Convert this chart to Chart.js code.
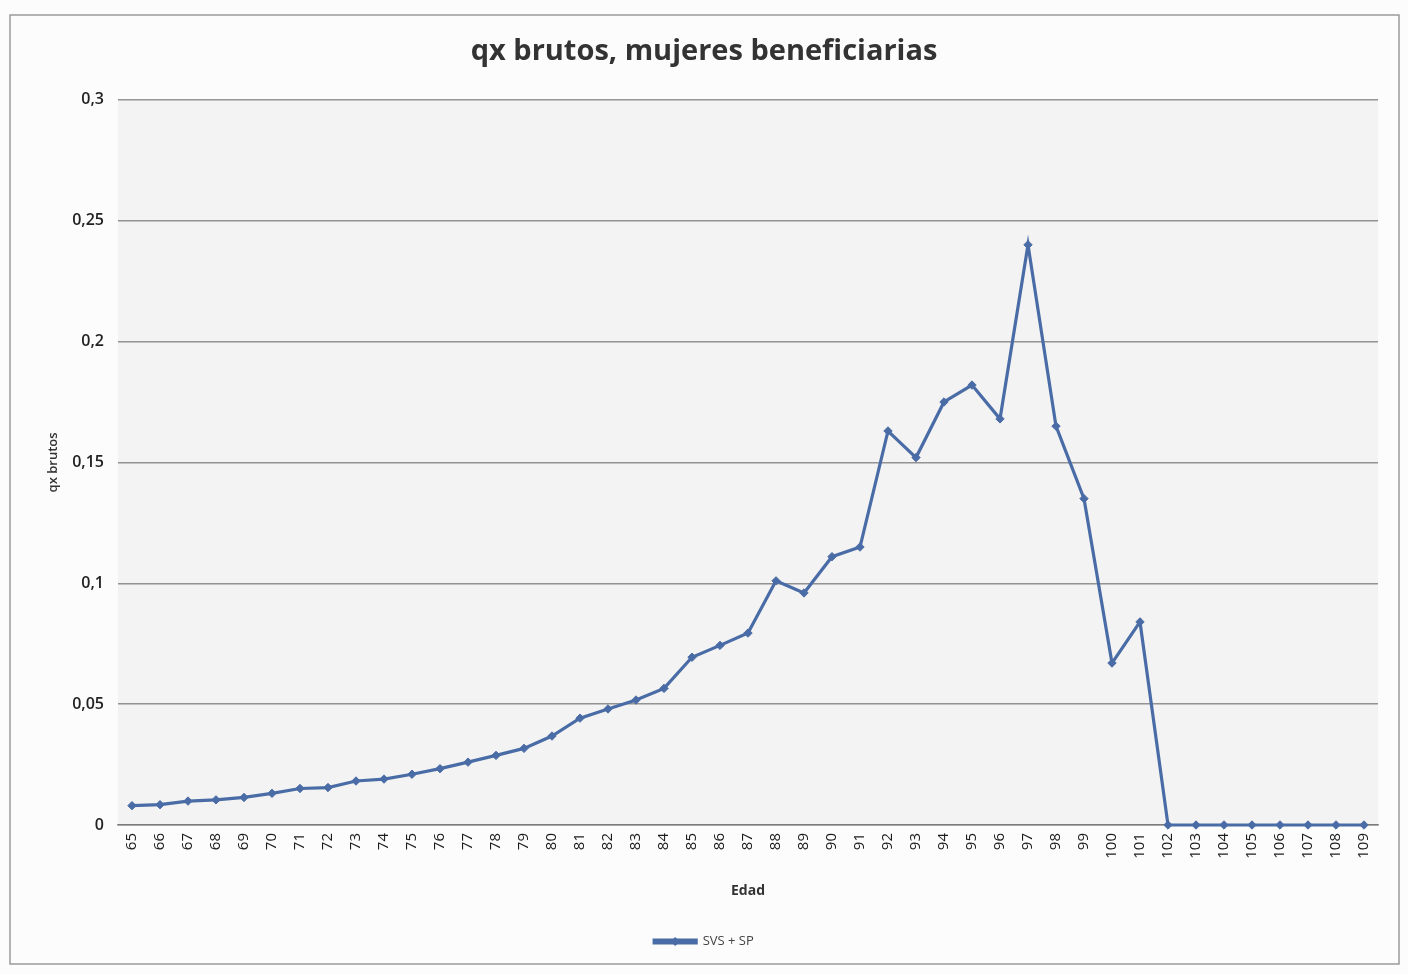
<!DOCTYPE html>
<html>
<head>
<meta charset="utf-8">
<title>qx brutos, mujeres beneficiarias</title>
<script src="https://cdn.jsdelivr.net/npm/chart.js@4.4.1/dist/chart.umd.min.js"></script>
<style>
    html, body { margin: 0; padding: 0; background: #fcfcfc; }
    canvas { display: block; }
</style>
</head>
<body>
<canvas id="chart-qx" width="1408" height="974"></canvas>
<script>
const edades = ['65', '66', '67', '68', '69', '70', '71', '72', '73', '74', '75', '76', '77', '78', '79',
    '80', '81', '82', '83', '84', '85', '86', '87', '88', '89', '90', '91', '92', '93', '94',
    '95', '96', '97', '98', '99', '100', '101', '102', '103', '104', '105', '106', '107', '108', '109'];

const qxSvsSp = [0.008, 0.0084, 0.0099, 0.0104, 0.0114, 0.0131, 0.0151, 0.0155, 0.0182, 0.019,
    0.021, 0.0233, 0.026, 0.0288, 0.0317, 0.0368, 0.0442, 0.048, 0.0517, 0.0565,
    0.0694, 0.0743, 0.0794, 0.101, 0.096, 0.111, 0.115, 0.163, 0.152, 0.175,
    0.182, 0.168, 0.240, 0.165, 0.135, 0.067, 0.084, 0, 0, 0,
    0, 0, 0, 0, 0];

const yMin = 0;
const yMax = 0.3;
const yStep = 0.05;

const lineColor = '#4a6ca6';
const gridColor = 'rgba(115, 115, 115, 0.75)';
const fontFamily = "'Open Sans', sans-serif";

// fondo del area de trazado y marco exterior
const marcoPlugin = {
    id: 'marco',
    beforeDraw(chart) {
        const { ctx, chartArea } = chart;
        ctx.save();
        ctx.fillStyle = '#f3f3f3';
        ctx.fillRect(chartArea.left, chartArea.top, chartArea.right - chartArea.left, chartArea.bottom - chartArea.top);
        ctx.strokeStyle = '#9a9a9a';
        ctx.lineWidth = 1.5;
        ctx.strokeRect(10, 15, 1389, 949);
        ctx.restore();
    },
    afterDraw(chart) {
        // rombo en el centro de la muestra de la leyenda
        const boxes = chart.legend.legendHitBoxes;
        if (!boxes || !boxes.length) return;
        const { ctx } = chart;
        const b = boxes[0];
        const bw = chart.legend.options.labels.boxWidth;
        const cx = b.left + bw / 2;
        const cy = b.top + b.height / 2;
        ctx.save();
        ctx.fillStyle = lineColor;
        ctx.beginPath();
        ctx.moveTo(cx, cy - 4.5);
        ctx.lineTo(cx + 4.5, cy);
        ctx.lineTo(cx, cy + 4.5);
        ctx.lineTo(cx - 4.5, cy);
        ctx.closePath();
        ctx.fill();
        ctx.restore();
    }
};

function formatTick(v) {
    return Number(v.toFixed(2)).toString().replace('.', ',');
}

const ctx = document.getElementById('chart-qx').getContext('2d');
new Chart(ctx, {
    type: 'line',
    data: {
        labels: edades,
        datasets: [{
            label: 'SVS + SP',
            data: qxSvsSp,
            borderColor: lineColor,
            backgroundColor: lineColor,
            borderWidth: 3.2,
            pointStyle: 'rectRot',
            pointRadius: 4.2,
            pointBorderWidth: 1,
            pointBackgroundColor: lineColor,
            pointBorderColor: lineColor,
            tension: 0,
            clip: false
        }]
    },
    options: {
        responsive: false,
        animation: false,
        layout: {
            padding: { left: 30, right: 30, top: 0, bottom: 16 }
        },
        plugins: {
            title: {
                display: true,
                text: 'qx brutos, mujeres beneficiarias',
                color: '#333',
                font: { family: fontFamily, size: 29, weight: 'bold', lineHeight: 1.2 },
                padding: { top: 34, bottom: 31 }
            },
            legend: {
                position: 'bottom',
                labels: {
                    color: '#444',
                    boxWidth: 42,
                    boxHeight: 3,
                    padding: 10,
                    font: { family: fontFamily, size: 13 }
                }
            },
            tooltip: { enabled: false }
        },
        scales: {
            x: {
                offset: true,
                grid: { display: false, drawTicks: false },
                border: { display: true, color: gridColor, width: 1.5 },
                ticks: {
                    color: '#1a1a1a',
                    autoSkip: false,
                    minRotation: 90,
                    maxRotation: 90,
                    padding: 8,
                    font: { family: fontFamily, size: 15 }
                },
                title: {
                    display: true,
                    text: 'Edad',
                    color: '#333',
                    font: { family: fontFamily, size: 14, weight: 'bold', lineHeight: 1.2 },
                    padding: { top: 0, bottom: 26 }
                },
                afterFit(scale) {
                    scale.height = 100;
                }
            },
            y: {
                min: yMin,
                max: yMax,
                grid: { color: gridColor, lineWidth: 1.5, drawTicks: false },
                border: { display: false },
                ticks: {
                    stepSize: yStep,
                    color: '#222',
                    padding: 14,
                    font: { family: fontFamily, size: 16, weight: '600' },
                    callback: v => formatTick(v)
                },
                title: {
                    display: true,
                    text: 'qx brutos',
                    color: '#333',
                    font: { family: fontFamily, size: 13, weight: '600', lineHeight: 1.2 },
                    padding: { top: 15, bottom: 0 }
                },
                afterFit(scale) {
                    scale.width = 88;
                }
            }
        }
    },
    plugins: [marcoPlugin]
});
</script>
</body>
</html>
